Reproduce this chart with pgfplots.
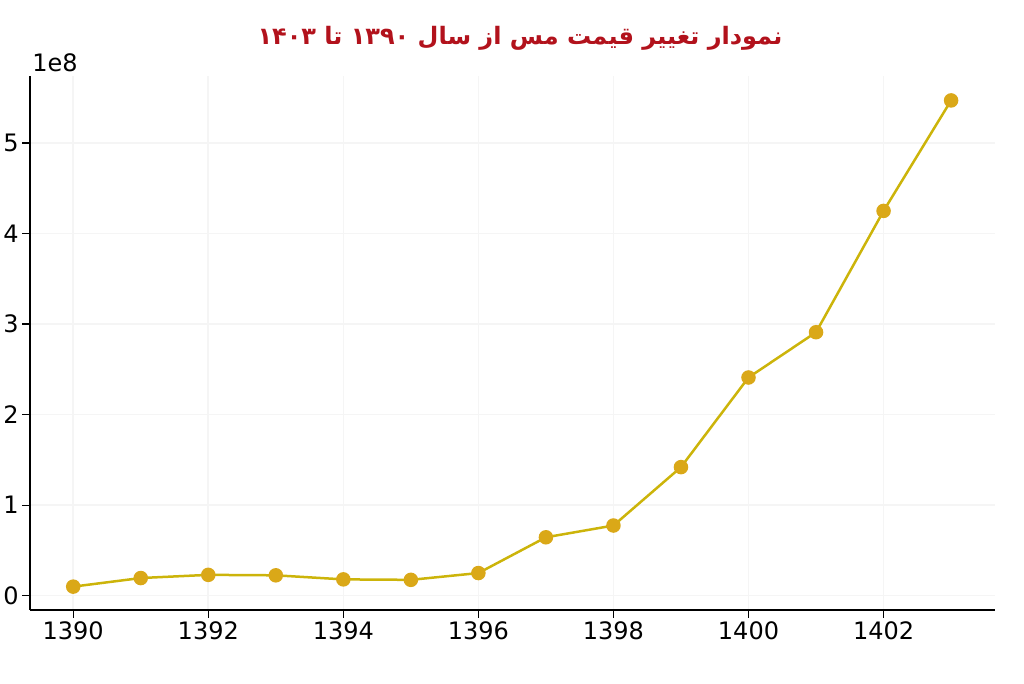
\documentclass[border=0pt]{standalone}
\usepackage{fontspec}
\setmainfont{DejaVu Sans}
\newfontfamily\arabicfont[Script=Arabic]{DejaVu Sans}
\TeXXeTstate=1
\usepackage{pgfplots}
\pgfplotsset{compat=1.18}

\definecolor{copperline}{RGB}{204,180,10}
\definecolor{coppermark}{RGB}{218,168,24}
\definecolor{titlered}{RGB}{178,18,28}

\begin{document}
\begin{tikzpicture}
\path[use as bounding box] (-15pt,-37pt) rectangle (497pt,305pt);
\begin{axis}[
    name=main,
    at={(0,0)}, anchor=south west,
    scale only axis,
    width=482.5pt, height=267pt,
    xmin=1389.36, xmax=1403.65,
    ymin=-0.158e8, ymax=5.74e8,
    axis x line*=bottom, axis y line*=left,
    axis line style={line width=0.8pt, -},
    xtick={1390,1392,...,1402},
    ytick={0,1e8,2e8,3e8,4e8,5e8},
    tick align=outside,
    major tick length=4pt,
    tick style={black, line width=0.6pt},
    x tick label style={inner sep=1.5pt, /pgf/number format/.cd, 1000 sep={}, fixed},
    y tick label style={inner sep=1.5pt},
    /pgf/number format/assume math mode=true,
    ticklabel style={font=\fontsize{12}{14}\selectfont},
    scaled y ticks=base 10:-8,
    ytick scale label code/.code={1e8},
    every y tick scale label/.style={at={(axis description cs:0,1)}, anchor=south west, inner sep=1pt, yshift=1pt, font=\fontsize{12}{14}\selectfont},
    ymajorgrids, xmajorgrids,
    grid style={black!4, line width=0.8pt},
    clip=false,
]
\addplot[
    color=copperline, line width=1.25pt,
    mark=*, mark size=3pt,
    mark options={fill=coppermark, draw=coppermark},
    ]
    coordinates {
    (1390,10000000)(1391,19500000)(1392,23000000)(1393,22500000)
    (1394,18000000)(1395,17500000)(1396,25000000)(1397,64500000)
    (1398,77500000)(1399,142000000)(1400,241000000)(1401,291000000)
    (1402,425000000)(1403,547000000)
    };
\end{axis}
\node[text=titlered, font=\fontsize{12}{15}\selectfont\bfseries] at (245pt,286pt)
    {\arabicfont\bfseries\beginR نمودار تغییر قیمت مس از سال \beginL۱۳۹۰\endL{} تا \beginL۱۴۰۳\endL\endR};
\end{tikzpicture}
\end{document}
